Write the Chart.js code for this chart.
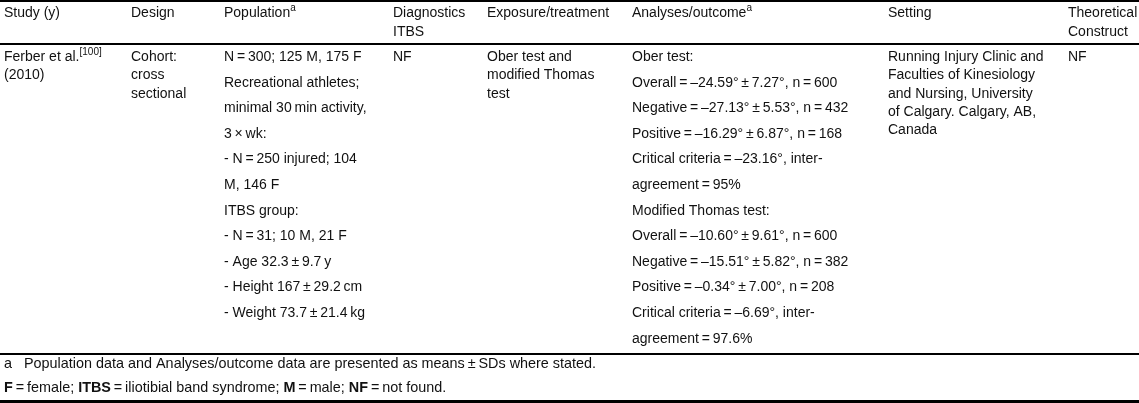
<!DOCTYPE html>
<html>
<head>
<meta charset="utf-8">
<script src="https://cdn.jsdelivr.net/npm/chart.js@4"></script>
<style>
html,body{margin:0;padding:0;background:#fff;}
#wrap{width:1139px;height:403px;position:relative;}
</style>
</head>
<body>
<div id="wrap"><canvas id="c"></canvas></div>
<script>
// ---------- table content (data) ----------
const columnHeaders = [
  ["Study (y)"],
  ["Design"],
  ["Population^a^"],
  ["Diagnostics", "ITBS"],
  ["Exposure/treatment"],
  ["Analyses/outcome^a^"],
  ["Setting"],
  ["Theoretical", "Construct"]
];
const studyCell = ["Ferber et al.^[100]^", "(2010)"];
const designCell = ["Cohort:", "cross", "sectional"];
const populationLines = [
  "N\u2009=\u2009300; 125 M, 175 F",
  "Recreational athletes;",
  "minimal 30\u2009min activity,",
  "3\u2009\u00d7\u2009wk:",
  "- N\u2009=\u2009250 injured; 104",
  "M, 146 F",
  "ITBS group:",
  "- N\u2009=\u200931; 10 M, 21 F",
  "- Age 32.3\u2009\u00b1\u20099.7\u2009y",
  "- Height 167\u2009\u00b1\u200929.2\u2009cm",
  "- Weight 73.7\u2009\u00b1\u200921.4\u2009kg"
];
const diagnosticsCell = ["NF"];
const exposureCell = ["Ober test and", "modified Thomas", "test"];
const analysesLines = [
  "Ober test:",
  "Overall\u2009=\u2009\u201324.59\u00b0\u2009\u00b1\u20097.27\u00b0, n\u2009=\u2009600",
  "Negative\u2009=\u2009\u201327.13\u00b0\u2009\u00b1\u20095.53\u00b0, n\u2009=\u2009432",
  "Positive\u2009=\u2009\u201316.29\u00b0\u2009\u00b1\u20096.87\u00b0, n\u2009=\u2009168",
  "Critical criteria\u2009=\u2009\u201323.16\u00b0, inter-",
  "agreement\u2009=\u200995%",
  "Modified Thomas test:",
  "Overall\u2009=\u2009\u201310.60\u00b0\u2009\u00b1\u20099.61\u00b0, n\u2009=\u2009600",
  "Negative\u2009=\u2009\u201315.51\u00b0\u2009\u00b1\u20095.82\u00b0, n\u2009=\u2009382",
  "Positive\u2009=\u2009\u20130.34\u00b0\u2009\u00b1\u20097.00\u00b0, n\u2009=\u2009208",
  "Critical criteria\u2009=\u2009\u20136.69\u00b0, inter-",
  "agreement\u2009=\u200997.6%"
];
const settingCell = [
  "Running Injury Clinic and",
  "Faculties of Kinesiology",
  "and Nursing, University",
  "of Calgary. Calgary, AB,",
  "Canada"
];
const theoryCell = ["NF"];
const footnoteMarker = "a";
const footnoteText = "Population data and Analyses/outcome data are presented as means\u2009\u00b1\u2009SDs where stated.";
const abbreviations = "*F*\u2009=\u2009female; *ITBS*\u2009=\u2009iliotibial band syndrome; *M*\u2009=\u2009male; *NF*\u2009=\u2009not found.";

// ---------- layout (positions / styles) ----------
const W = 1139, H = 403;
const colX = [4, 131, 224, 393, 487, 632, 888, 1068];
const headerBase = 17, headerStep = 19;
const bodyBase = 61, listStep = 25.6, wrapStep = 18.3;
const rules = [{y: 1, w: 2.2}, {y: 44, w: 2.2}, {y: 354, w: 2.2}, {y: 401.5, w: 3}];
const foot1Base = 368, foot2Base = 392, footTextX = 24;
const FONT = '"Liberation Sans", Arial, Helvetica, sans-serif';
const SIZE = 14, FOOT_SIZE = 14.4;
const INK = '#111';

const bodyCells = [
  {lines: studyCell, step: wrapStep},
  {lines: designCell, step: wrapStep},
  {lines: populationLines, step: listStep},
  {lines: diagnosticsCell, step: wrapStep},
  {lines: exposureCell, step: wrapStep},
  {lines: analysesLines, step: listStep},
  {lines: settingCell, step: wrapStep},
  {lines: theoryCell, step: wrapStep}
];

function drawRich(ctx, text, px, py, size) {
  const parts = text.split(/(\^[^^]*\^|\*[^*]*\*)/).filter(s => s.length);
  let x = px;
  for (const p of parts) {
    let t = p, font = size + 'px ' + FONT, dy = 0;
    if (p[0] === '^') { t = p.slice(1, -1); font = Math.round(size * 0.68) + 'px ' + FONT; dy = -size * 0.42; }
    else if (p[0] === '*') { t = p.slice(1, -1); font = 'bold ' + size + 'px ' + FONT; }
    ctx.font = font;
    ctx.fillText(t, x, py + dy);
    x += ctx.measureText(t).width;
  }
}

const tablePlugin = {
  id: 'tableText',
  afterDatasetsDraw(chart) {
    const ctx = chart.ctx, sx = chart.scales.x, sy = chart.scales.y;
    ctx.save();
    ctx.fillStyle = INK;
    ctx.textBaseline = 'alphabetic';
    ctx.textAlign = 'left';
    columnHeaders.forEach((lines, i) => {
      lines.forEach((t, j) => drawRich(ctx, t, sx.getPixelForValue(colX[i]), sy.getPixelForValue(headerBase + j * headerStep), SIZE));
    });
    bodyCells.forEach((cell, i) => {
      cell.lines.forEach((t, j) => drawRich(ctx, t, sx.getPixelForValue(colX[i]), sy.getPixelForValue(bodyBase + j * cell.step), SIZE));
    });
    drawRich(ctx, footnoteMarker, sx.getPixelForValue(colX[0]), sy.getPixelForValue(foot1Base), FOOT_SIZE);
    drawRich(ctx, footnoteText, sx.getPixelForValue(footTextX), sy.getPixelForValue(foot1Base), FOOT_SIZE);
    drawRich(ctx, abbreviations, sx.getPixelForValue(colX[0]), sy.getPixelForValue(foot2Base), FOOT_SIZE);
    ctx.restore();
  }
};

const ruleDatasets = rules.map(r => ({
  data: [{x: 0, y: r.y}, {x: W, y: r.y}],
  showLine: true,
  borderColor: '#000',
  borderWidth: r.w,
  pointRadius: 0,
  clip: false
}));

new Chart(document.getElementById('c'), {
  type: 'scatter',
  data: {datasets: ruleDatasets},
  options: {
    responsive: true,
    maintainAspectRatio: false,
    animation: false,
    devicePixelRatio: 1,
    layout: {padding: 0},
    plugins: {legend: {display: false}, tooltip: {enabled: false}},
    events: [],
    scales: {
      x: {type: 'linear', min: 0, max: W, display: false},
      y: {type: 'linear', min: 0, max: H, reverse: true, display: false}
    }
  },
  plugins: [tablePlugin]
});
</script>
</body>
</html>
